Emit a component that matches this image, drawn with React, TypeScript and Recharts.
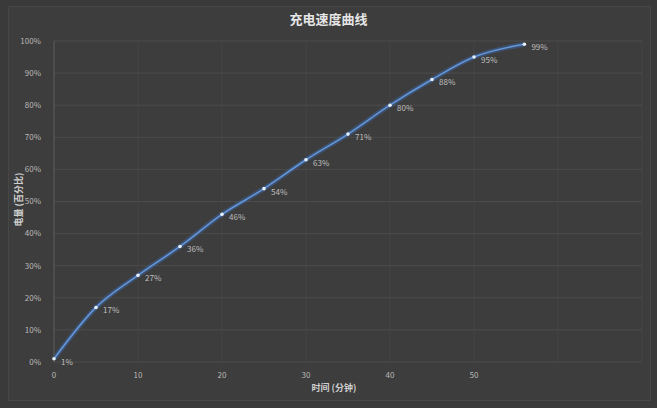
import { CartesianGrid, LabelList, Line, LineChart, XAxis, YAxis } from "recharts";

const minutes = [0, 5, 10, 15, 20, 25, 30, 35, 40, 45, 50, 56];
const charge = [1, 17, 27, 36, 46, 54, 63, 71, 80, 88, 95, 99];
const xTicks = [0, 10, 20, 30, 40, 50, 60, 70];
const yTicks = [0, 10, 20, 30, 40, 50, 60, 70, 80, 90, 100];
// 60 and 70 sit under the watermark in the source image, so their labels are not shown
const lastShownMinute = 50;

const data = minutes.map((t, i) => ({ t, v: charge[i] }));

const font = '"Noto Sans CJK SC", "Noto Sans", sans-serif';
const tickStyle = { fill: "#b8b8b8", fontSize: 8, fontFamily: font };

export default function App() {
  return (
    <div style={{ position: "relative", width: 657, height: 408, background: "#3a3a3a" }}>
      <style>{"body{margin:0}"}</style>
      <div
        style={{
          position: "absolute",
          left: 8,
          top: 6,
          width: 641,
          height: 393,
          border: "1px solid #474747",
          background: "#3d3d3d"
        }}
      />
      <div
        style={{
          position: "absolute",
          left: 0,
          top: 9,
          width: 657,
          textAlign: "center",
          color: "#e6e6e6",
          fontFamily: font,
          fontSize: 13,
          fontWeight: 700
        }}
      >
        充电速度曲线
      </div>
      <div
        style={{
          position: "absolute",
          left: 278,
          top: 381,
          width: 112,
          textAlign: "center",
          color: "#cfcfcf",
          fontFamily: font,
          fontSize: 9,
          fontWeight: 700
        }}
      >
        时间 (分钟)
      </div>
      <div
        style={{
          position: "absolute",
          left: 18 - 40,
          top: 200 - 7,
          width: 80,
          textAlign: "center",
          color: "#cfcfcf",
          fontFamily: font,
          fontSize: 9,
          fontWeight: 700,
          transform: "rotate(-90deg)"
        }}
      >
        电量 (百分比)
      </div>
      <div style={{ position: "absolute", left: 0, top: 0 }}>
        <LineChart width={657} height={408} data={data} margin={{ top: 41, right: 15, bottom: 26, left: 0 }}>
          <CartesianGrid stroke="#454545" horizontal={false} />
          <CartesianGrid stroke="#4c4c4c" vertical={false} />
          <XAxis
            dataKey="t"
            type="number"
            domain={[0, 70]}
            ticks={xTicks}
            tick={tickStyle}
            tickFormatter={(v: number) => (v > lastShownMinute ? "" : String(v))}
            tickLine={false}
            axisLine={false}
            height={20}
            tickMargin={4}
          />
          <YAxis
            type="number"
            domain={[0, 100]}
            ticks={yTicks}
            tick={tickStyle}
            tickFormatter={(v: number) => `${v}%`}
            tickLine={false}
            axisLine={{ stroke: "#5a5a5a" }}
            width={54}
            tickMargin={7}
          />
          <Line
            dataKey="v"
            type="monotone"
            stroke="#3d6fb8"
            strokeOpacity={0.4}
            strokeWidth={5}
            dot={false}
            isAnimationActive={false}
          />
          <Line
            dataKey="v"
            type="monotone"
            stroke="#6496da"
            strokeWidth={1.6}
            dot={{ r: 1.8, fill: "#e8f0fa", stroke: "none" }}
            isAnimationActive={false}
          >
            <LabelList
              dataKey="v"
              position="right"
              offset={7}
              formatter={(v: any) => `${v}%`}
              style={{ fill: "#bdbdbd", fontSize: 8, fontFamily: font }}
              dy={3}
            />
          </Line>
        </LineChart>
      </div>
    </div>
  );
}
